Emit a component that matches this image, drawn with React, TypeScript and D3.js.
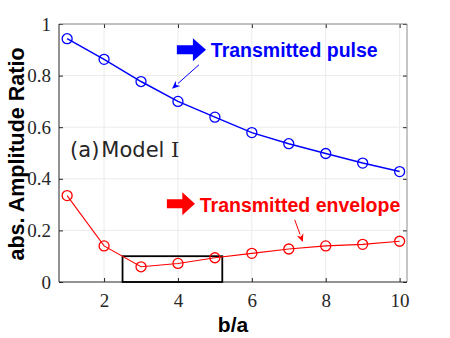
import React, { useEffect, useRef } from "react";
import * as d3 from "d3";

const ratios = [1, 2, 3, 4, 5, 6, 7, 8, 9, 10];
const pulse = [0.943, 0.863, 0.777, 0.7, 0.639, 0.579, 0.536, 0.498, 0.461, 0.428];
const envelope = [0.335, 0.14, 0.059, 0.072, 0.094, 0.111, 0.128, 0.14, 0.146, 0.158];
const xTicks = [2, 4, 6, 8, 10];
const yTicks = [0, 0.2, 0.4, 0.6, 0.8, 1];
const yTickLabels = ["0", "0.2", "0.4", "0.6", "0.8", "1"];

export default function App() {
  const ref = useRef<SVGSVGElement>(null);

  let margin = { top: 24, right: 43, bottom: 56, left: 59 };
  let width = 450 - margin.left - margin.right;
  let height = 338 - margin.top - margin.bottom;

  useEffect(() => {
    const root = d3.select(ref.current);
    root.selectAll("*").remove();
    const svg = root
      .append("g")
      .attr("transform", "translate(" + margin.left + "," + margin.top + ")");

    const x = d3.scaleLinear().domain([0.78, 10.2]).range([0, width]);
    const y = d3.scaleLinear().domain([0, 1]).range([height, 0]);

    // grid
    svg
      .selectAll(".gx")
      .data(xTicks)
      .enter()
      .append("line")
      .attr("x1", (d) => x(d))
      .attr("x2", (d) => x(d))
      .attr("y1", 0)
      .attr("y2", height)
      .attr("stroke", "#ebebeb");
    svg
      .selectAll(".gy")
      .data(yTicks.slice(1))
      .enter()
      .append("line")
      .attr("x1", 0)
      .attr("x2", width)
      .attr("y1", (d) => y(d))
      .attr("y2", (d) => y(d))
      .attr("stroke", "#ebebeb");

    // axes
    const styleAxis = (g: any) => {
      g.select(".domain").remove();
      g.selectAll("line").attr("stroke", "#262626");
      g.selectAll("text")
        .attr("fill", "#262626")
        .style("font-family", "'Liberation Serif', 'Times New Roman', serif")
        .style("font-size", "19px");
    };
    svg
      .append("g")
      .attr("transform", "translate(0," + height + ")")
      .call(d3.axisBottom(x).tickValues(xTicks).tickSize(-4).tickPadding(12).tickFormat(d3.format("d")))
      .call(styleAxis);
    svg
      .append("g")
      .call(
        d3
          .axisLeft(y)
          .tickValues(yTicks)
          .tickSize(-4)
          .tickPadding(8)
          .tickFormat((d, i) => yTickLabels[i])
      )
      .call(styleAxis);
    svg
      .append("g")
      .call(d3.axisTop(x).tickValues(xTicks).tickSize(-4).tickFormat(() => ""))
      .call(styleAxis);
    svg
      .append("g")
      .attr("transform", "translate(" + width + ",0)")
      .call(d3.axisRight(y).tickValues(yTicks).tickSize(-4).tickFormat(() => ""))
      .call(styleAxis);

    // box
    svg
      .append("path")
      .attr("d", `M0,0H${width}V${height}`)
      .attr("fill", "none")
      .attr("stroke", "#8c8c8c")
      .attr("stroke-width", 1);
    svg
      .append("path")
      .attr("d", `M0,0V${height}H${width}`)
      .attr("fill", "none")
      .attr("stroke", "#262626")
      .attr("stroke-width", 1);

    // highlight rectangle
    svg
      .append("rect")
      .attr("x", x(2.5))
      .attr("y", y(0.1))
      .attr("width", x(5.2) - x(2.5))
      .attr("height", y(0) - y(0.1))
      .attr("fill", "none")
      .attr("stroke", "black")
      .attr("stroke-width", 1.8);

    // series
    const series = [
      { values: pulse, color: "#0000ff", lw: 1.5 },
      { values: envelope, color: "#ff0000", lw: 1.1 },
    ];
    series.forEach((s) => {
      const pts = ratios.map((r, i) => [r, s.values[i]] as [number, number]);
      svg
        .append("path")
        .datum(pts)
        .attr("fill", "none")
        .attr("stroke", s.color)
        .attr("stroke-width", s.lw)
        .attr(
          "d",
          d3
            .line()
            .x((d) => x(d[0]))
            .y((d) => y(d[1]))
        );
      svg
        .selectAll(null)
        .data(pts)
        .enter()
        .append("circle")
        .attr("cx", (d) => x(d[0]))
        .attr("cy", (d) => y(d[1]))
        .attr("r", 5)
        .attr("fill", "none")
        .attr("stroke", s.color)
        .attr("stroke-width", 1.3);
    });

    // annotations
    const blockArrow = (x0: number, x1: number, yc: number, color: string) => {
      const px0 = x(x0);
      const px1 = x(x1);
      const py = y(yc);
      const hl = (px1 - px0) * 0.45;
      const sh = 4.5;
      const hh = 11.5;
      svg
        .append("path")
        .attr(
          "d",
          `M${px0},${py - sh}H${px1 - hl}V${py - hh}L${px1},${py}L${px1 - hl},${py + hh}V${py + sh}H${px0}Z`
        )
        .attr("fill", color);
    };
    const thinArrow = (x0: number, y0: number, x1: number, y1: number, color: string) => {
      const ax = x(x0), ay = y(y0), bx = x(x1), by = y(y1);
      const ang = Math.atan2(by - ay, bx - ax);
      const L = 8, W = 3.5;
      const cx = bx - L * Math.cos(ang), cy = by - L * Math.sin(ang);
      svg
        .append("line")
        .attr("x1", ax)
        .attr("y1", ay)
        .attr("x2", cx)
        .attr("y2", cy)
        .attr("stroke", color)
        .attr("stroke-width", 1);
      svg
        .append("path")
        .attr(
          "d",
          `M${bx},${by}L${cx - W * Math.sin(ang)},${cy + W * Math.cos(ang)}L${cx + L * 0.3 * Math.cos(ang)},${cy + L * 0.3 * Math.sin(ang)}L${cx + W * Math.sin(ang)},${cy - W * Math.cos(ang)}Z`
        )
        .attr("fill", color);
    };

    blockArrow(3.97, 4.76, 0.9, "#0000ff");
    svg
      .append("text")
      .attr("x", x(4.89))
      .attr("y", y(0.873))
      .attr("fill", "#0000ff")
      .style("font-family", "'Liberation Sans', Arial, sans-serif")
      .style("font-weight", "bold")
      .style("font-size", "19.5px")
      .text("Transmitted pulse");
    thinArrow(4.57, 0.842, 3.84, 0.749, "#0000ff");

    blockArrow(3.7, 4.46, 0.303, "#ff0000");
    svg
      .append("text")
      .attr("x", x(4.59))
      .attr("y", y(0.272))
      .attr("fill", "#ff0000")
      .style("font-family", "'Liberation Sans', Arial, sans-serif")
      .style("font-weight", "bold")
      .style("font-size", "19.5px")
      .text("Transmitted envelope");
    thinArrow(7.16, 0.241, 7.38, 0.155, "#ff0000");

    const model = svg
      .append("text")
      .attr("x", x(1.08))
      .attr("y", y(0.485))
      .attr("fill", "#262626")
      .style("font-family", "'DejaVu Sans', sans-serif")
      .style("font-size", "21px");
    model.append("tspan").text("(a)");
    model.append("tspan").attr("dx", 2).text("Model ");
    model
      .append("tspan")
      .style("font-family", "'DejaVu Serif', serif")
      .style("font-weight", "300")
      .text("I");

    // axis labels
    root
      .append("text")
      .attr("transform", `translate(${margin.left + width / 2},332)`)
      .attr("text-anchor", "middle")
      .attr("fill", "#000")
      .style("font-family", "'Liberation Sans', Arial, sans-serif")
      .style("font-weight", "bold")
      .style("font-size", "21px")
      .text("b/a");
    root
      .append("text")
      .attr("transform", `translate(24,${margin.top + height / 2 + 1})rotate(-90)`)
      .attr("text-anchor", "middle")
      .attr("fill", "#000")
      .style("font-family", "'Liberation Sans', Arial, sans-serif")
      .style("font-weight", "bold")
      .style("font-size", "21.5px")
      .text("abs. Amplitude Ratio");
  });

  return (
    <svg
      ref={ref}
      width={450}
      height={338}
      style={{ position: "absolute", left: 0, top: 0, background: "#fff" }}
    />
  );
}
